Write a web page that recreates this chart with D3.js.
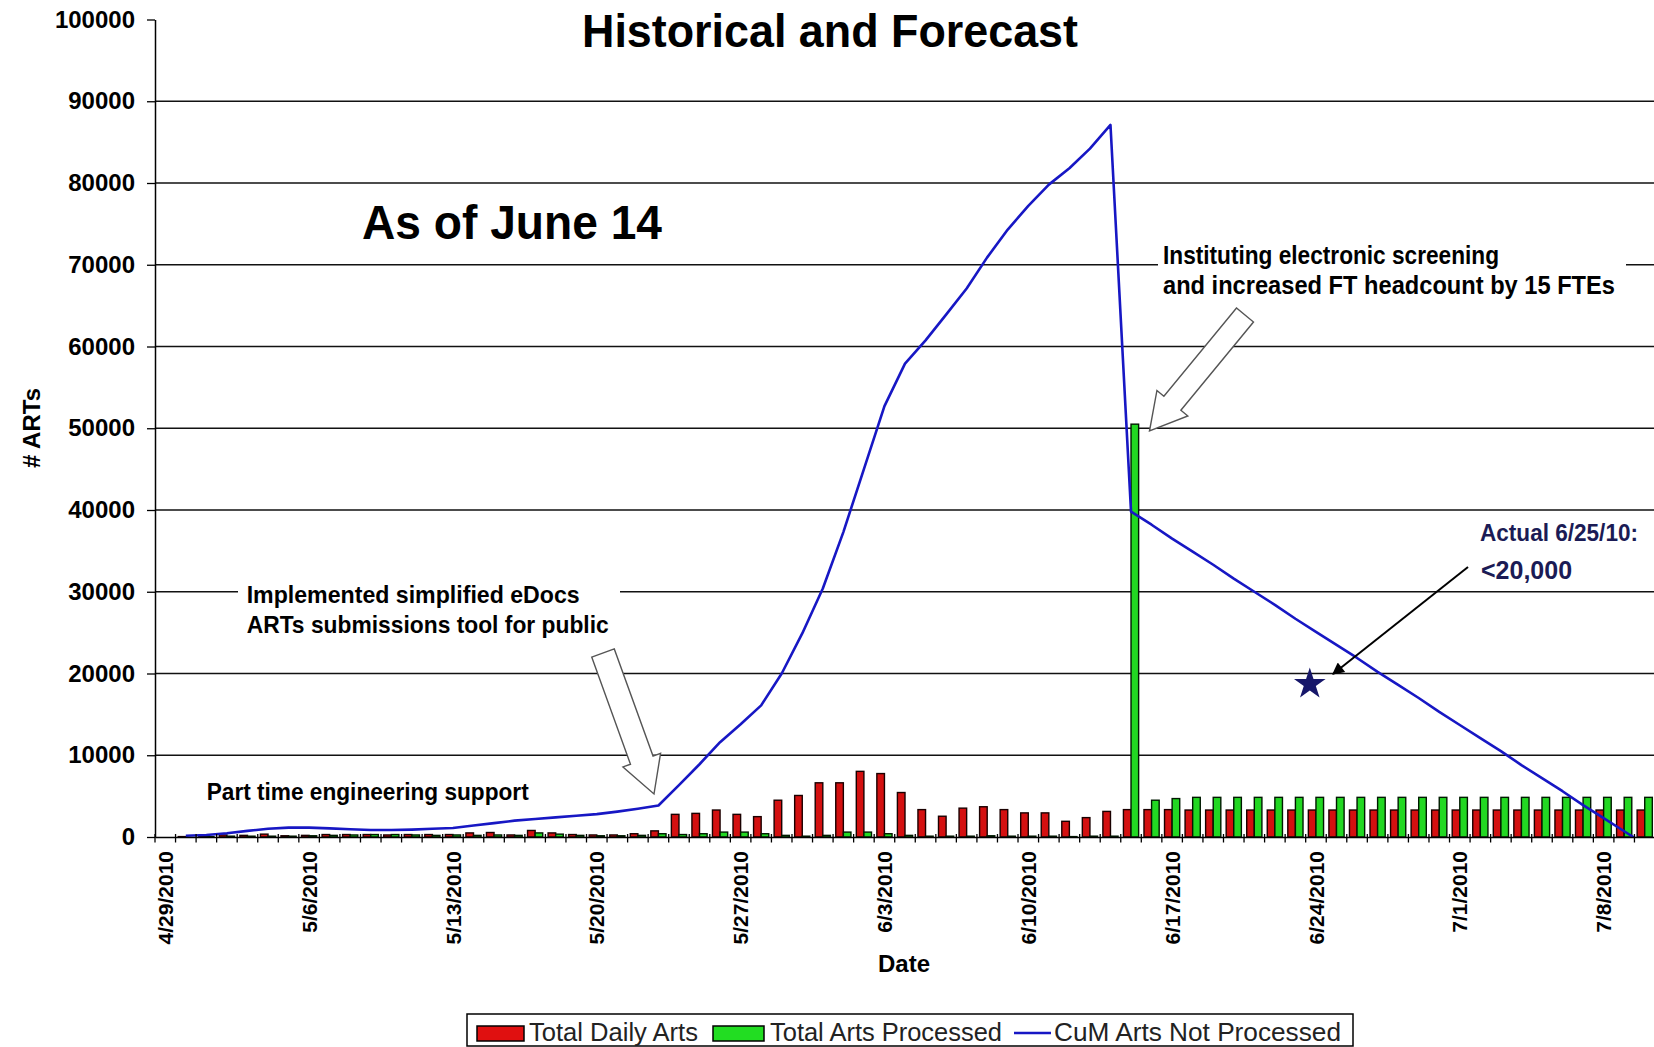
<!DOCTYPE html>
<html><head><meta charset="utf-8">
<script src="https://cdn.jsdelivr.net/npm/d3@7"></script>
<style>
html,body{margin:0;padding:0;background:#fff;}
svg{display:block;font-family:"Liberation Sans",Arial,Helvetica,sans-serif;}
</style></head><body>
<svg id="chart" width="1654" height="1047"></svg>
<script>
// ---------------- DATA ----------------
const firstDay = new Date(2010, 3, 29);
const dayAfterLast = new Date(2010, 6, 11);
const tickLabels = ["4/29/2010","5/6/2010","5/13/2010","5/20/2010","5/27/2010","6/3/2010",
  "6/10/2010","6/17/2010","6/24/2010","7/1/2010","7/8/2010"];
const yTicks = [0,10000,20000,30000,40000,50000,60000,70000,80000,90000,100000];

const totalDailyArts = [
  0, 50, 100, 250, 200, 350, 150, 200, 300, 300,
  300, 250, 300, 300, 300, 500, 550, 250, 800, 500,
  300, 250, 250, 400, 750, 2770, 2890, 3300, 2770, 2490,
  4500, 5080, 6630, 6630, 8030, 7760, 5440, 3350, 2540, 3530,
  3700, 3350, 2950, 2950, 1920, 2370, 3130, 3350, 3350, 3350,
  3300, 3300, 3300, 3300, 3300, 3300, 3300, 3300, 3300, 3300,
  3300, 3300, 3300, 3300, 3300, 3300, 3300, 3300, 3300, 3300,
  3300, 3300, 3300];
const totalArtsProcessed = [
  0, 0, 50, 100, 100, 100, 100, 150, 200, 250,
  300, 300, 250, 200, 250, 200, 250, 200, 500, 350,
  200, 150, 150, 200, 400, 300, 400, 600, 600, 400,
  200, 100, 200, 600, 600, 400, 200, 100, 100, 100,
  150, 100, 100, 100, 50, 100, 100, 50500, 4500, 4700,
  4850, 4850, 4850, 4850, 4850, 4850, 4850, 4850, 4850, 4850,
  4850, 4850, 4850, 4850, 4850, 4850, 4850, 4850, 4850, 4850,
  4850, 4850, 4850];
const cumArtsNotProcessed = [
  null, 150, 250, 450, 750, 1000, 1150, 1150, 1050, 950,
  850, 850, 900, 1000, 1100, 1400, 1700, 2000, 2200, 2400,
  2600, 2800, 3100, 3450, 3850, 6350, 8900, 11600, 13800, 16100,
  20000, 24900, 30400, 37300, 45000, 52700, 57900, 60750, 63900, 67100,
  70900, 74300, 77200, 79800, 81800, 84200, 87100, 39800, 38200, 36500,
  34900, 33300, 31600, 30000, 28400, 26700, 25100, 23500, 21900, 20200,
  18600, 17000, 15300, 13700, 12100, 10500, 8800, 7200, 5600, 3900,
  2300, 700, -900];
const actualLabelDate = "6/24/2010";
const actualValue = 18700;

const seriesNames = ["Total Daily Arts", "Total Arts Processed", "CuM Arts Not Processed"];

// ---------------- SETUP ----------------
const fmt = d3.timeFormat("%-m/%-d/%Y");
const categories = d3.timeDay.range(firstDay, dayAfterLast).map(fmt);
const rows = categories.map((c, i) => ({c, red: totalDailyArts[i], green: totalArtsProcessed[i], cum: cumArtsNotProcessed[i]}));

const svg = d3.select("#chart");
const FONT = '"Liberation Sans",Arial,Helvetica,sans-serif';
const plotLeft = 155, plotRight = 1655, plotTop = 19.5, plotBottom = 837;

const x = d3.scaleBand().domain(categories).range([plotLeft, plotRight]).padding(0);
const y = d3.scaleLinear().domain([0, 100000]).range([plotBottom, plotTop]);
const bw = x.bandwidth();
const barW = 7.6;

svg.append("rect").attr("width",1654).attr("height",1047).attr("fill","#fff");

// gridlines
svg.append("g").selectAll("line").data(yTicks.filter(v => v > 0 && v < 100000)).join("line")
  .attr("x1", plotLeft).attr("x2", 1654).attr("y1", d => y(d)).attr("y2", d => y(d))
  .attr("stroke", "#111").attr("stroke-width", 1.3);

// white boxes behind annotation texts
svg.append("rect").attr("x",1158).attr("y",238).attr("width",468).attr("height",64).attr("fill","#fff");
svg.append("rect").attr("x",238).attr("y",578).attr("width",382).attr("height",62).attr("fill","#fff");

// bars
const gBars = svg.append("g");
gBars.selectAll("rect.red").data(rows.filter(d => d.red > 0)).join("rect").attr("class","red")
  .attr("x", d => x(d.c) + bw/2 - barW).attr("width", barW)
  .attr("y", d => y(d.red)).attr("height", d => y(0) - y(d.red))
  .attr("fill", "#d41010").attr("stroke", "#1a0000").attr("stroke-width", 1.4);
gBars.selectAll("rect.green").data(rows.filter(d => d.green > 0)).join("rect").attr("class","green")
  .attr("x", d => x(d.c) + bw/2).attr("width", barW)
  .attr("y", d => y(d.green)).attr("height", d => y(0) - y(d.green))
  .attr("fill", "#22d822").attr("stroke", "#001a00").attr("stroke-width", 1.4);

// line
svg.append("clipPath").attr("id","plotclip").append("rect")
  .attr("x", plotLeft).attr("y", plotTop).attr("width", plotRight - plotLeft).attr("height", plotBottom - plotTop + 0.5);
const line = d3.line().defined(d => d.cum != null)
  .x(d => x(d.c) + bw/2).y(d => y(d.cum));
svg.append("path").datum(rows).attr("d", line).attr("clip-path","url(#plotclip)")
  .attr("fill","none").attr("stroke","#1717c4").attr("stroke-width",2.6).attr("stroke-linejoin","round");

// y axis
const gy = svg.append("g").attr("transform", `translate(${plotLeft},0)`)
  .call(d3.axisLeft(y).tickValues(yTicks).tickSize(8).tickSizeOuter(0).tickPadding(12).tickFormat(d3.format("d")));
gy.select(".domain").attr("stroke","#000").attr("stroke-width",1.5);
gy.selectAll(".tick line").attr("stroke","#000").attr("stroke-width",1.3);
gy.selectAll(".tick text").attr("font-family",FONT).attr("font-size",24).attr("font-weight","bold").attr("fill","#000");

// x axis
const gx = svg.append("g").attr("transform", `translate(0,${plotBottom})`)
  .call(d3.axisBottom(x).tickValues(tickLabels).tickSize(0).tickSizeOuter(0));
gx.select(".domain").attr("stroke","#000").attr("stroke-width",1.5);
gx.selectAll(".tick text").attr("font-family",FONT).attr("font-size",21).attr("font-weight","bold").attr("fill","#000")
  .attr("transform","rotate(-90)").attr("text-anchor","end").attr("x",-14).attr("y",0).attr("dy","0.36em");
// category boundary ticks (cross)
const boundaries = categories.map(c => x(c)).concat([x(categories[categories.length-1]) + bw]);
gx.append("g").selectAll("line").data(boundaries).join("line")
  .attr("x1", d => d).attr("x2", d => d).attr("y1", -3).attr("y2", 5.5)
  .attr("stroke","#000").attr("stroke-width",1.3);

// axis titles
svg.append("text").attr("x",904).attr("y",972).attr("text-anchor","middle")
  .attr("font-family",FONT).attr("font-size",24).attr("font-weight","bold").text("Date");
svg.append("text").attr("transform","translate(40,428) rotate(-90)").attr("text-anchor","middle")
  .attr("font-family",FONT).attr("font-size",24).attr("font-weight","bold").text("# ARTs");

// title
svg.append("text").attr("x",582).attr("y",47).attr("font-family",FONT).attr("font-size",46)
  .attr("font-weight","bold").attr("textLength",496).attr("lengthAdjust","spacingAndGlyphs")
  .text("Historical and Forecast");

// annotation texts
function note(t, xx, yy, size, len, color) {
  const el = svg.append("text").attr("x",xx).attr("y",yy).attr("font-family",FONT)
    .attr("font-size",size).attr("font-weight","bold").attr("fill",color || "#000").text(t);
  if (len) el.attr("textLength",len).attr("lengthAdjust","spacingAndGlyphs");
  return el;
}
note("As of June 14", 362, 239, 49, 300);
note("Instituting electronic screening", 1163, 263.5, 25, 336);
note("and increased FT headcount by 15 FTEs", 1163, 293.5, 25, 452);
note("Implemented simplified eDocs", 246.7, 602.5, 24, 333);
note("ARTs submissions tool for public", 246.7, 633.3, 24, 362);
note("Part time engineering support", 206.7, 800, 24, 322);
note("Actual 6/25/10:", 1480, 540.5, 24, 158, "#1b1b55");
note("<20,000", 1481, 579, 25, null, "#1b1b55");

// block arrows
function blockArrow(tail, tip, sw, hw, hl) {
  const dx = tip[0]-tail[0], dy = tip[1]-tail[1], L = Math.hypot(dx,dy);
  const ux = dx/L, uy = dy/L, nx = -uy, ny = ux;
  const bx = tip[0]-ux*hl, by = tip[1]-uy*hl;
  const p = [
    [tail[0]+nx*sw/2, tail[1]+ny*sw/2],[bx+nx*sw/2, by+ny*sw/2],[bx+nx*hw/2, by+ny*hw/2],
    tip,[bx-nx*hw/2, by-ny*hw/2],[bx-nx*sw/2, by-ny*sw/2],[tail[0]-nx*sw/2, tail[1]-ny*sw/2]];
  svg.append("path").attr("d", d3.line()(p) + "Z").attr("fill","#fff")
    .attr("stroke","#555").attr("stroke-width",1.4).attr("stroke-linejoin","miter");
}
blockArrow([603,653],[654,794],24,40,36);
blockArrow([1245,315],[1149.5,431],22,40,36);

// black arrow to star
svg.append("defs").append("marker").attr("id","ah").attr("viewBox","0 0 10 10").attr("refX",9).attr("refY",5)
  .attr("markerWidth",7).attr("markerHeight",6).attr("markerUnits","strokeWidth").attr("orient","auto")
  .append("path").attr("d","M0,0L10,5L0,10Z").attr("fill","#000");
svg.append("line").attr("x1",1468).attr("y1",567).attr("x2",1333).attr("y2",674)
  .attr("stroke","#000").attr("stroke-width",2).attr("marker-end","url(#ah)");

// star (actual value)
svg.append("path").attr("d", d3.symbol(d3.symbolStar, 310)())
  .attr("transform", `translate(${x(actualLabelDate) + bw*0.2},${y(actualValue)})`)
  .attr("fill","#17176a");

// legend
const lg = svg.append("g");
lg.append("rect").attr("x",467).attr("y",1014).attr("width",886).attr("height",32)
  .attr("fill","#fff").attr("stroke","#000").attr("stroke-width",1.5);
lg.append("rect").attr("x",477).attr("y",1026).attr("width",47).attr("height",15)
  .attr("fill","#e01010").attr("stroke","#000").attr("stroke-width",1.5);
lg.append("rect").attr("x",713).attr("y",1026).attr("width",51).attr("height",15)
  .attr("fill","#22dd22").attr("stroke","#000").attr("stroke-width",1.5);
lg.append("line").attr("x1",1014).attr("x2",1051).attr("y1",1033).attr("y2",1033)
  .attr("stroke","#1717c4").attr("stroke-width",2.6);
const legX = [529, 770, 1054], legW = [169, 232, 287];
seriesNames.forEach((n, i) => {
  lg.append("text").attr("x",legX[i]).attr("y",1041).attr("font-family",FONT).attr("font-size",25)
    .attr("fill","#222").attr("textLength",legW[i]).attr("lengthAdjust","spacingAndGlyphs").text(n);
});
</script>
</body></html>
